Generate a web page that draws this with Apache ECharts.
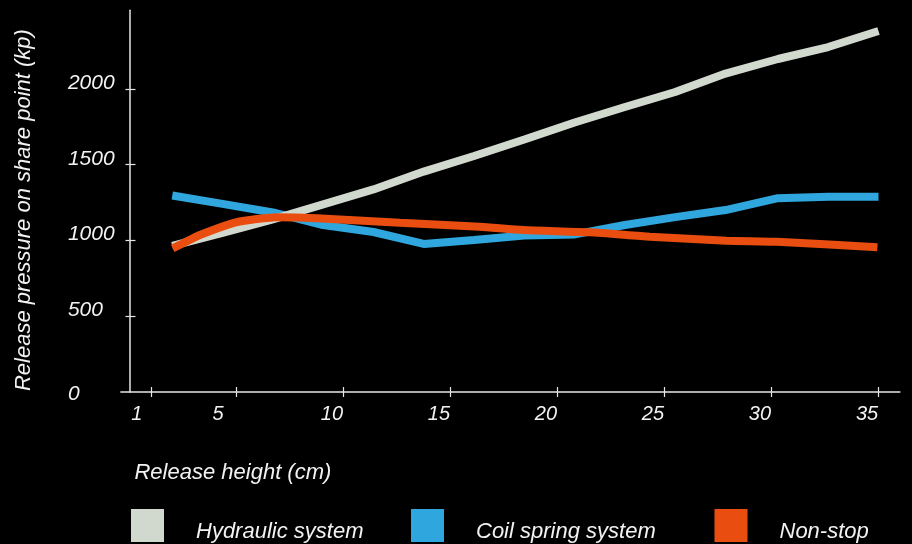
<!DOCTYPE html>
<html><head><meta charset="utf-8">
<script src="https://cdn.jsdelivr.net/npm/echarts@6/dist/echarts.min.js"></script>
<style>html,body{margin:0;padding:0;background:#000}#c{width:912px;height:544px}</style>
</head><body><div id="c"></div>
<script>
// ---- data ----
const seriesNames = ['Hydraulic system', 'Coil spring system', 'Non-stop'];
const xTickValues = [1, 5, 10, 15, 20, 25, 30, 35];
const yTickValues = [500, 1000, 1500, 2000];
const yLabelValues = [0, 500, 1000, 1500, 2000];
const heights = [2, 4.35, 6.7, 9.05, 11.4, 13.75, 16.1, 18.45, 20.8, 23.15, 25.5, 27.85, 30.3, 32.65, 35];
const hydraulic = [964, 1051, 1139, 1238, 1337, 1455, 1558, 1667, 1779, 1881, 1980, 2102, 2198, 2277, 2383];
const coilSpring = [1297, 1242, 1185, 1102, 1056, 977, 1003, 1033, 1040, 1102, 1154, 1201, 1279, 1289, 1289];
const nonStopHeights = [2.02, 2.51, 3.29, 4.84, 5.63, 6.88, 8.75, 12.64, 16.38, 18.39, 21.52, 24.32, 27.9, 30.24, 34.95];
const nonStop = [948, 982, 1036, 1115, 1135, 1153, 1147, 1117, 1091, 1069, 1054, 1025, 999, 992, 955];

const colors = { hyd: '#D1D8CD', coil: '#2FA7DE', non: '#E94E10' };
const FONT = "'Liberation Sans', Arial, Helvetica, sans-serif";
const TXT = '#f2f2f2';
const AX = '#e6e6e6';

const pairs = (xs, ys) => xs.map((x, i) => [x, ys[i]]);
const rs = (extra) => Object.assign({ color: TXT, fontSize: 20, fontStyle: 'italic', fontFamily: FONT }, extra);

const chart = echarts.init(document.getElementById('c'), null, { renderer: 'canvas' });

function legendAt(name, left) {
  return {
    data: [name], left: left, top: 509, padding: 0, itemGap: 0,
    icon: 'rect', itemWidth: 33, itemHeight: 33, selectedMode: false,
    itemStyle: { borderWidth: 0 },
    formatter: n => '{t|' + n + '}',
    textStyle: {
      color: TXT, fontSize: 22, fontStyle: 'italic', fontFamily: FONT,
      rich: { t: { color: TXT, fontSize: 22, fontStyle: 'italic', fontFamily: FONT, padding: [12, 0, 0, 27] } }
    }
  };
}

const option = {
  backgroundColor: '#000',
  animation: false,
  grid: { left: 120.9, right: 12.1, top: 10.2, bottom: 152, outerBoundsMode: 'none', containLabel: false },
  legend: [
    legendAt(seriesNames[0], 131),
    legendAt(seriesNames[1], 411),
    legendAt(seriesNames[2], 714.5)
  ],
  xAxis: [
    {
      type: 'value', min: -0.4, max: 36, position: 'bottom',
      axisLine: { show: true, onZero: true, lineStyle: { color: AX, width: 1.5 } },
      axisTick: { show: true, customValues: xTickValues, inside: true, length: 5, lineStyle: { color: AX, width: 1.2 } },
      axisLabel: {
        show: true, customValues: xTickValues, margin: 12, align: 'center',
        formatter: v => v === 1 ? '{b|1}' : (v === 5 ? '{c|5}' : '{a|' + v + '}'),
        rich: {
          a: rs({ padding: [0, 23, 0, 0] }),
          b: rs({ padding: [0, 28, 0, 0] }),
          c: rs({ padding: [0, 37, 0, 0] })
        }
      },
      splitLine: { show: false },
      name: 'Release height (cm)', nameLocation: 'middle', nameGap: 70, nameMoveOverlap: false,
      nameTextStyle: { color: TXT, fontSize: 22, fontStyle: 'italic', fontFamily: FONT, padding: [0, 555, 0, 0] }
    },
    {
      type: 'value', min: -0.4, max: 36, position: 'bottom',
      axisLine: { show: false },
      axisTick: { show: true, customValues: xTickValues, inside: false, length: 5, lineStyle: { color: AX, width: 1.2 } },
      axisLabel: { show: false },
      splitLine: { show: false }
    }
  ],
  yAxis: [
    {
      type: 'value', min: 0, max: 2520, position: 'left',
      axisLine: { show: true, onZero: true, lineStyle: { color: AX, width: 1.5 } },
      axisTick: { show: true, customValues: yTickValues, inside: true, length: 6, lineStyle: { color: AX, width: 1.2 } },
      axisLabel: {
        show: true, customValues: yLabelValues, margin: 53, align: 'left',
        formatter: v => v === 0 ? '{z|0}' : '{a|' + v + '}',
        rich: {
          a: rs({ fontSize: 21, padding: [0, 0, 12, 0] }),
          z: rs({ fontSize: 21, padding: [4, 0, 0, 0] })
        }
      },
      splitLine: { show: false },
      name: 'Release pressure on share point (kp)', nameLocation: 'middle', nameRotate: 90, nameGap: 86, nameMoveOverlap: false,
      nameTextStyle: { color: TXT, fontSize: 22, fontStyle: 'italic', fontFamily: FONT, padding: [0, 18, 0, 0] }
    },
    {
      type: 'value', min: 0, max: 2520, position: 'left',
      axisLine: { show: false, onZero: true },
      axisTick: { show: true, customValues: yTickValues, inside: false, length: 4, lineStyle: { color: AX, width: 1.2 } },
      axisLabel: { show: false },
      splitLine: { show: false }
    }
  ],
  series: [
    {
      name: seriesNames[1], type: 'line', data: pairs(heights, coilSpring), z: 2,
      showSymbol: false, symbol: 'none', color: colors.coil,
      lineStyle: { color: colors.coil, width: 8, cap: 'butt' }, itemStyle: { color: colors.coil }
    },
    {
      name: seriesNames[0], type: 'line', data: pairs(heights, hydraulic), z: 3,
      showSymbol: false, symbol: 'none', color: colors.hyd,
      lineStyle: { color: colors.hyd, width: 8, cap: 'butt' }, itemStyle: { color: colors.hyd }
    },
    {
      name: seriesNames[2], type: 'line', data: pairs(nonStopHeights, nonStop), z: 4,
      showSymbol: false, symbol: 'none', color: colors.non, smooth: 0.2,
      lineStyle: { color: colors.non, width: 8, cap: 'butt' }, itemStyle: { color: colors.non }
    }
  ]
};
chart.setOption(option);
</script>
</body></html>
